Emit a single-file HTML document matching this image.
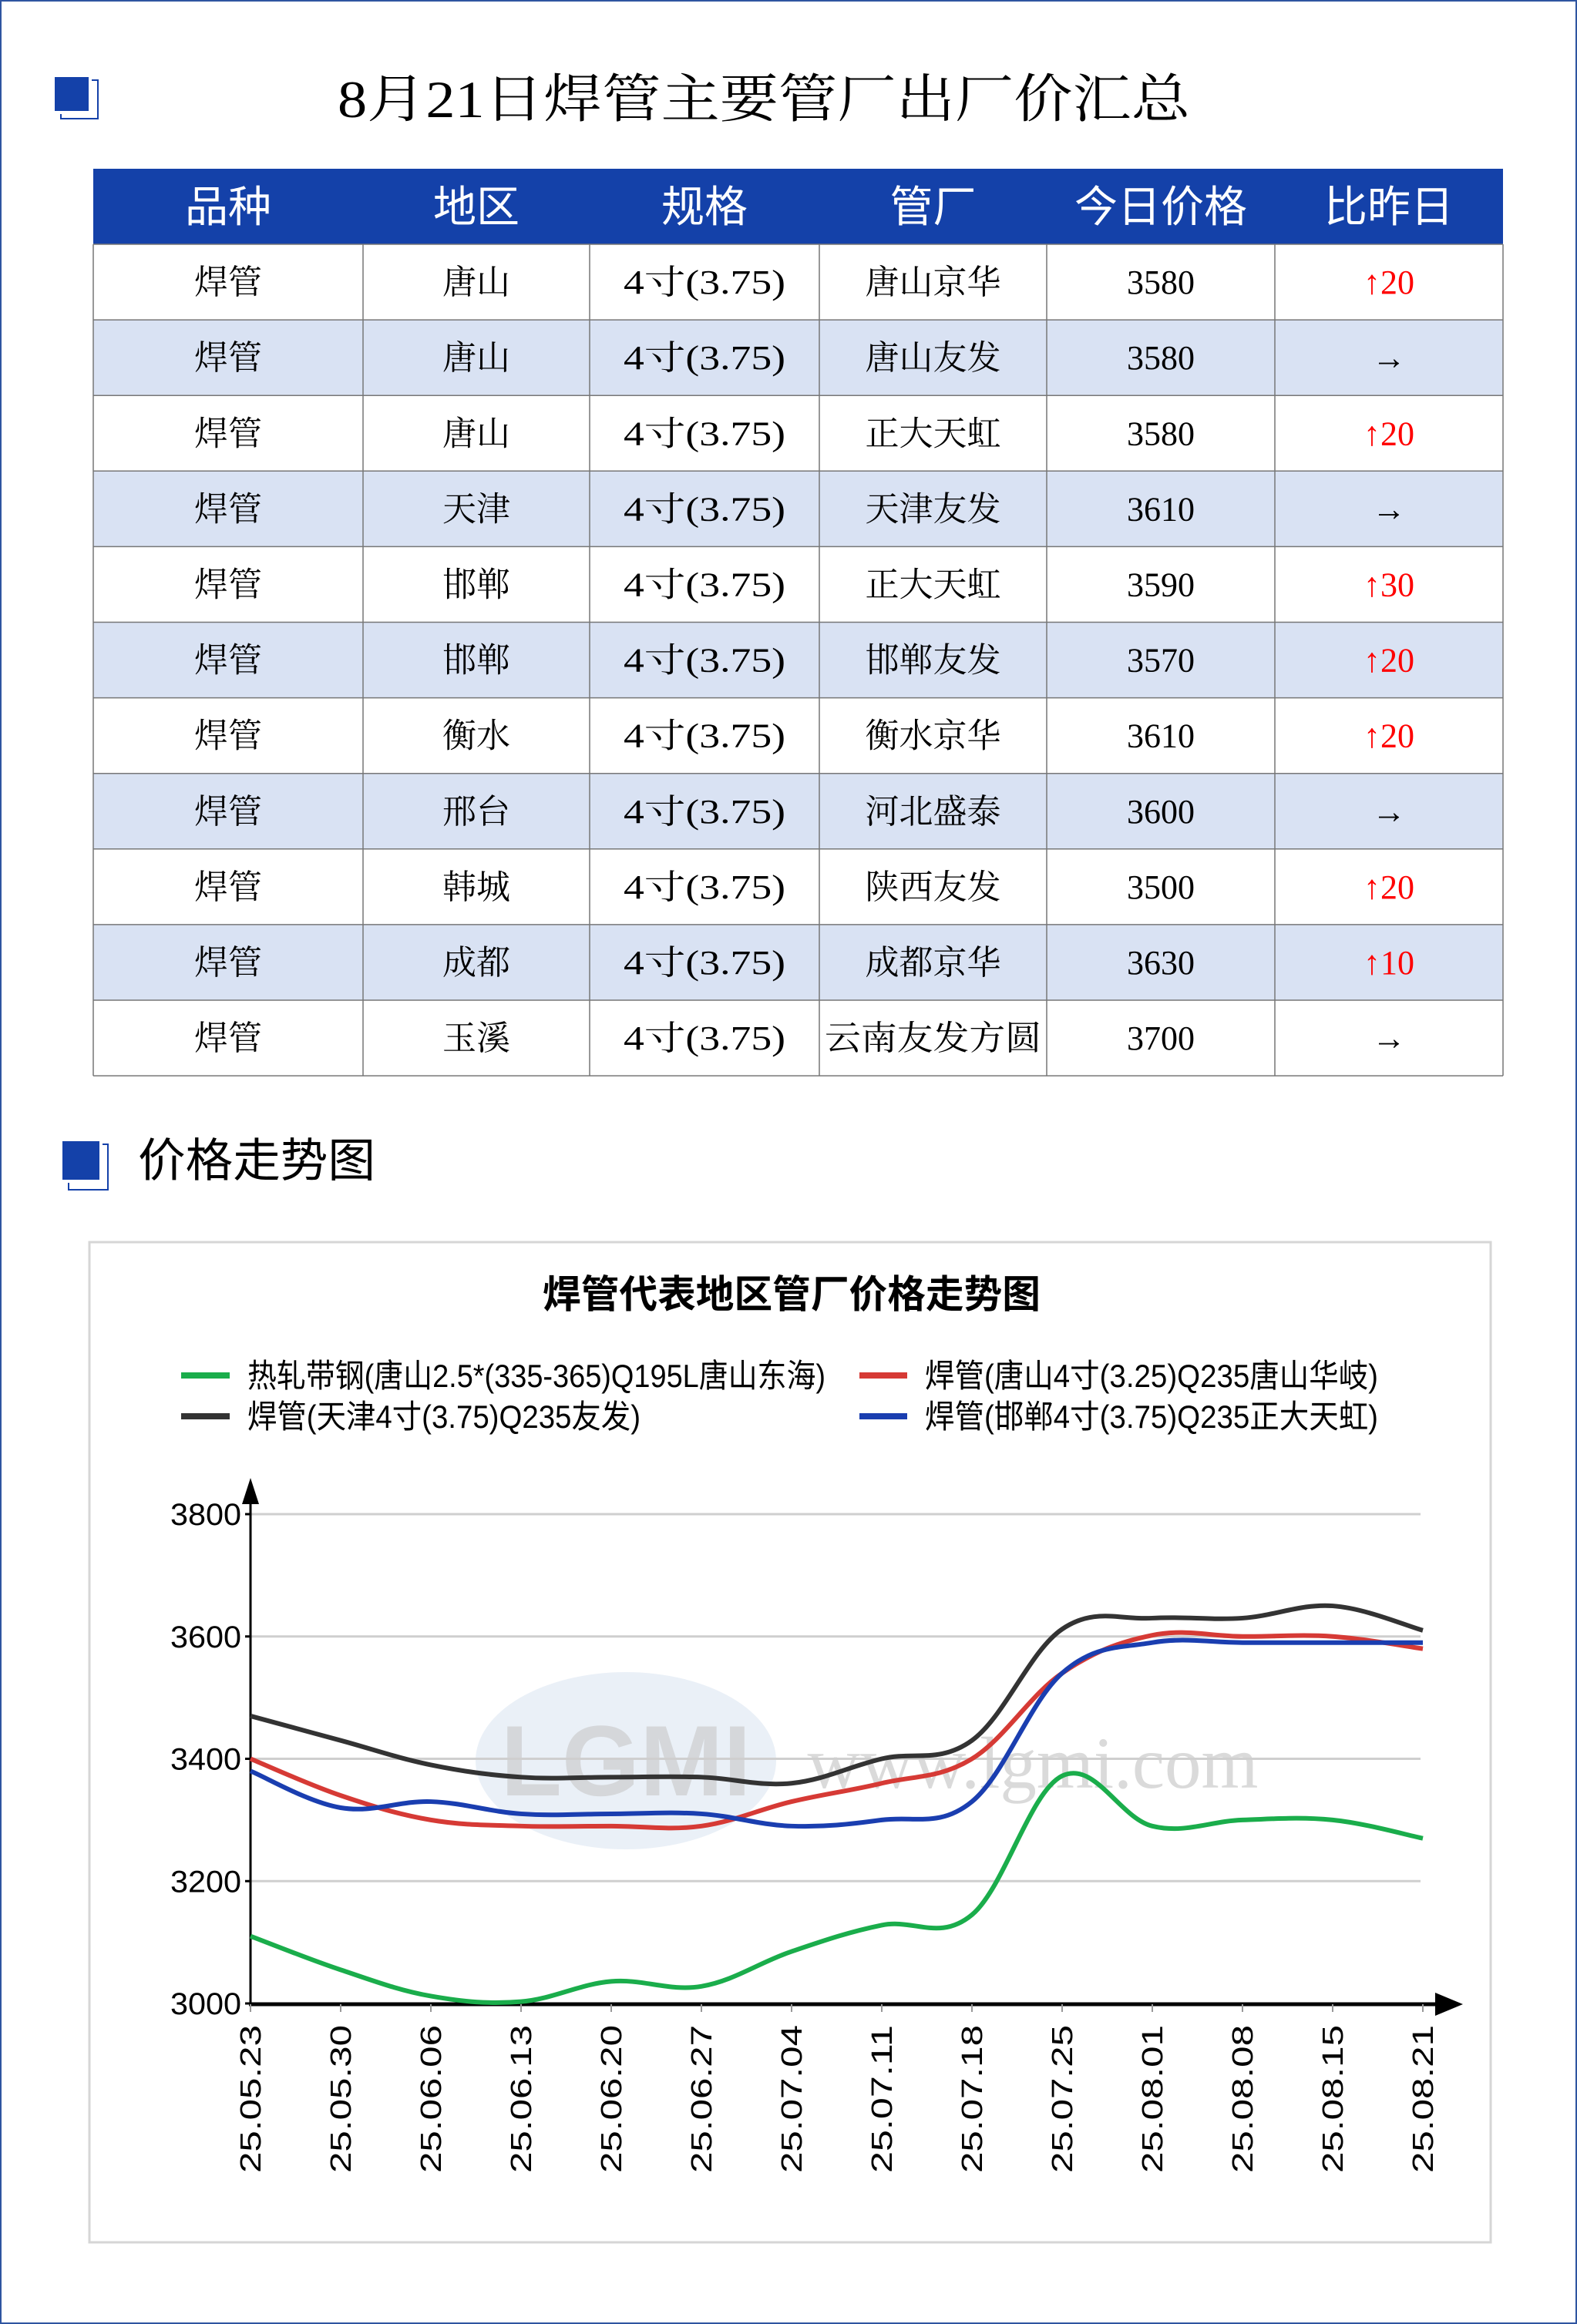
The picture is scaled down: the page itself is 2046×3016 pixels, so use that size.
<!DOCTYPE html>
<html><head><meta charset="utf-8"><style>
html,body{margin:0;padding:0;background:#fff}
svg{display:block}
.t{font-family:"Liberation Serif","Noto Serif CJK SC",serif}
.s{font-family:"Liberation Sans","Noto Sans CJK SC",sans-serif}
</style></head><body>
<svg id="svg" width="2046" height="3016" viewBox="0 0 2046 3016" xmlns="http://www.w3.org/2000/svg">
<rect x="1" y="1" width="2044" height="3014" fill="#fff" stroke="#2F55A0" stroke-width="2"/>
<rect x="71" y="100" width="44" height="44" fill="#1441A9"/>
<path d="M119 104 H127 V154 H79 V148" fill="none" stroke="#1441A9" stroke-width="2"/>
<text class="t" x="991" y="152" font-size="68" text-anchor="middle" textLength="1106" lengthAdjust="spacingAndGlyphs">8月21日焊管主要管厂出厂价汇总</text>
<g id="table"></g>
<rect x="81" y="1481" width="48" height="50" fill="#1441A9"/>
<path d="M133 1485 H140 V1544 H89 V1535" fill="none" stroke="#1441A9" stroke-width="2"/>
<text class="s" x="179" y="1527" font-size="60" textLength="308" lengthAdjust="spacingAndGlyphs">价格走势图</text>
<rect x="116" y="1612" width="1818" height="1298" fill="#fff" stroke="#d6d6d6" stroke-width="3"/>
<text class="s" x="1027" y="1697" font-size="50" font-weight="bold" text-anchor="middle" textLength="646" lengthAdjust="spacingAndGlyphs">焊管代表地区管厂价格走势图</text>
<line x1="235" y1="1785" x2="298" y2="1785" stroke="#1AAD4B" stroke-width="8"/>
<text class="s" x="321" y="1800" font-size="42" textLength="750" lengthAdjust="spacingAndGlyphs">热轧带钢(唐山2.5*(335-365)Q195L唐山东海)</text>
<line x1="1115" y1="1785" x2="1177" y2="1785" stroke="#D63A35" stroke-width="8"/>
<text class="s" x="1200" y="1800" font-size="42" textLength="588" lengthAdjust="spacingAndGlyphs">焊管(唐山4寸(3.25)Q235唐山华岐)</text>
<line x1="235" y1="1838" x2="298" y2="1838" stroke="#333" stroke-width="8"/>
<text class="s" x="321" y="1853" font-size="42" textLength="510" lengthAdjust="spacingAndGlyphs">焊管(天津4寸(3.75)Q235友发)</text>
<line x1="1115" y1="1838" x2="1177" y2="1838" stroke="#1A3EB0" stroke-width="8"/>
<text class="s" x="1200" y="1853" font-size="42" textLength="588" lengthAdjust="spacingAndGlyphs">焊管(邯郸4寸(3.75)Q235正大天虹)</text>
<ellipse cx="812" cy="2285" rx="195" ry="115" fill="#d6e2f0" opacity="0.5"/>
<text x="812" y="2330" font-family="Liberation Sans,sans-serif" font-weight="bold" font-size="130" fill="#c8c8c8" text-anchor="middle" opacity="0.6">LGMI</text>
<text x="1340" y="2320" font-family="Liberation Serif,serif" font-size="95" fill="#dadada" text-anchor="middle">www.lgmi.com</text>
<g id="grid"></g>
<g id="series"></g>
</svg>
<script>
var NS="http://www.w3.org/2000/svg";
function el(p,tag,at,txt){var e=document.createElementNS(NS,tag);for(var k in at)e.setAttribute(k,at[k]);if(txt!=null)e.textContent=txt;p.appendChild(e);return e;}
var tb=document.getElementById('table');
var cols=[121,471,765,1063,1358,1654,1950];
var top0=219,hh=98,rh=98.1;
el(tb,'rect',{x:121,y:top0,width:1829,height:hh,fill:'#1441A9'});
var heads=['品种','地区','规格','管厂','今日价格','比昨日'];
for(var i=0;i<6;i++){var cx=(cols[i]+cols[i+1])/2;
 el(tb,'text',{x:cx,y:top0+69,'font-size':56,fill:'#fff','text-anchor':'middle','class':'s'},heads[i]);}
var rows=[['唐山','唐山京华','3580','↑20'],['唐山','唐山友发','3580','→'],['唐山','正大天虹','3580','↑20'],['天津','天津友发','3610','→'],['邯郸','正大天虹','3590','↑30'],['邯郸','邯郸友发','3570','↑20'],['衡水','衡水京华','3610','↑20'],['邢台','河北盛泰','3600','→'],['韩城','陕西友发','3500','↑20'],['成都','成都京华','3630','↑10'],['玉溪','云南友发方圆','3700','→']];
var y0=top0+hh;
for(var r=0;r<rows.length;r++){
 var y=y0+r*rh;
 el(tb,'rect',{x:121,y:y,width:1829,height:rh,fill:r%2?'#D9E2F3':'#fff'});
 var cy=y+rh/2+15;
 var vals=['焊管',rows[r][0],'4寸(3.75)',rows[r][1],rows[r][2],rows[r][3]];
 for(var c=0;c<6;c++){var cx=(cols[c]+cols[c+1])/2;
  var at={x:cx,y:cy,'font-size':44,'text-anchor':'middle','class':'t',fill:'#000'};
  if(c==2){at.textLength=210;at.lengthAdjust='spacingAndGlyphs';}
  if(c==3&&vals[c].length>4){at.textLength=281;at.lengthAdjust='spacingAndGlyphs';}
  if(c==5&&vals[c][0]=='↑'){at.fill='#f00';}
  el(tb,'text',at,vals[c]);}
}
for(var r=0;r<=rows.length;r++){var y=y0+r*rh;el(tb,'line',{x1:121,y1:y,x2:1950,y2:y,stroke:'#777','stroke-width':1.5});}
for(var c=0;c<7;c++){el(tb,'line',{x1:cols[c],y1:y0,x2:cols[c],y2:y0+rows.length*rh,stroke:'#777','stroke-width':1.5});}
var g=document.getElementById('grid');
function Y(v){return 2600-(v-3000)*635/800;}
function X(i){return 325+i*117;}
[3200,3400,3600,3800].forEach(function(v){el(g,'line',{x1:325,y1:Y(v),x2:1843,y2:Y(v),stroke:'#cfcfcf','stroke-width':3});});
[3000,3200,3400,3600,3800].forEach(function(v){
 el(g,'line',{x1:318,y1:Y(v),x2:325,y2:Y(v),stroke:'#000','stroke-width':3});
 el(g,'text',{x:313,y:Y(v)+14,'font-size':40,'text-anchor':'end','class':'s',textLength:92,lengthAdjust:'spacingAndGlyphs'},String(v));});
el(g,'line',{x1:325,y1:1935,x2:325,y2:2602,stroke:'#000','stroke-width':3});
el(g,'path',{d:'M325 1918 L314 1952 L336 1952 Z',fill:'#000'});
el(g,'line',{x1:323,y1:2601,x2:1880,y2:2601,stroke:'#000','stroke-width':5});
el(g,'path',{d:'M1898 2601 L1862 2586 L1862 2616 Z',fill:'#000'});
var labs=['25.05.23','25.05.30','25.06.06','25.06.13','25.06.20','25.06.27','25.07.04','25.07.11','25.07.18','25.07.25','25.08.01','25.08.08','25.08.15','25.08.21'];
for(var i=0;i<14;i++){var x=X(i);
 el(g,'line',{x1:x,y1:2601,x2:x,y2:2611,stroke:'#999','stroke-width':2});
 el(g,'text',{x:0,y:0,'font-size':38,'text-anchor':'end','class':'s',transform:'translate('+(x+13)+',2628) rotate(-90)',textLength:192,lengthAdjust:'spacingAndGlyphs'},labs[i]);}
var S=[
 ['#1AAD4B',[3110,3055,3012,3003,3036,3028,3085,3128,3145,3372,3290,3300,3300,3270]],
 ['#333333',[3470,3430,3390,3370,3370,3370,3360,3400,3430,3612,3630,3630,3650,3610]],
 ['#D63A35',[3400,3340,3300,3290,3290,3290,3330,3360,3400,3540,3602,3600,3600,3580]],
 ['#1A3EB0',[3380,3320,3330,3310,3310,3310,3290,3300,3330,3540,3590,3590,3590,3590]]];
var sg=document.getElementById('series');
S.forEach(function(s){
 var p=s[1].map(function(v,i){return [X(i),Y(v)];});
 var d='M'+p[0][0]+' '+p[0][1];
 for(var i=0;i<p.length-1;i++){
  var p0=p[Math.max(0,i-1)],p1=p[i],p2=p[i+1],p3=p[Math.min(p.length-1,i+2)];
  var t=0.18;
  var c1=[p1[0]+(p2[0]-p0[0])*t,p1[1]+(p2[1]-p0[1])*t];
  var c2=[p2[0]-(p3[0]-p1[0])*t,p2[1]-(p3[1]-p1[1])*t];
  d+=' C'+c1[0]+' '+c1[1]+' '+c2[0]+' '+c2[1]+' '+p2[0]+' '+p2[1];}
 el(sg,'path',{d:d,fill:'none',stroke:s[0],'stroke-width':6,'stroke-linejoin':'round'});
});
</script>
</body></html>
